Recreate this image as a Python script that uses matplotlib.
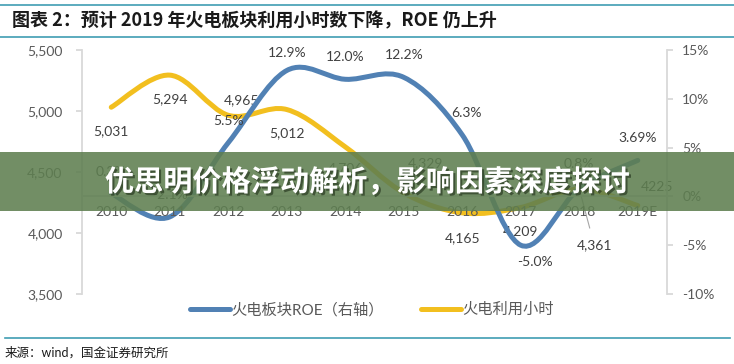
import numpy as np
import matplotlib
matplotlib.use('Agg')
import matplotlib.pyplot as plt
from matplotlib.path import Path
from matplotlib.patches import PathPatch, Rectangle
from matplotlib.lines import Line2D
import matplotlib.patheffects as pe

plt.rcParams['font.family'] = ['Lato', 'Noto Sans CJK SC', 'DejaVu Sans']

years = ['2010', '2011', '2012', '2013', '2014', '2015', '2016', '2017', '2018', '2019E']
hours = [5031, 5294, 4965, 5012, 4706, 4329, 4165, 4209, 4361, 4225]
hours_labels = ['5,031', '5,294', '4,965', '5,012', '4,706', '4,329', '4,165', '4,209', '4,361', '4225']
roe = [0.3, -2.1, 5.5, 12.9, 12.0, 12.2, 6.3, -5.0, 0.8, 3.69]
roe_labels = ['0.3%', '-2.1%', '5.5%', '12.9%', '12.0%', '12.2%', '6.3%', '-5.0%', '0.8%', '3.69%']

# label offsets in pixels (dx, dy), dy positive = up
hours_off = [(0, -24), (0, -24), (13, 15), (0, -24), (0, -21), (22, 30), (0, -25), (0, -24), (15, -56), (19, 19)]
roe_off = [(0, 21), (0, 22), (0, 22), (0, 17), (0, 22), (0, 22), (4, 22), (14, -17), (0, 25), (0, 22)]

BLUE = '#5181B4'
GOLD = '#F2BF1F'
TEAL = '#3F9DB3'
GREY = '#595959'


def smooth_path(xs, ys):
    # Bezier smoothing like the spreadsheet "smoothed line" option
    n = len(xs)
    verts = [(xs[0], ys[0])]
    codes = [Path.MOVETO]
    for i in range(n - 1):
        i0 = max(i - 1, 0)
        i3 = min(i + 2, n - 1)
        c1 = (xs[i] + (xs[i + 1] - xs[i0]) / 6, ys[i] + (ys[i + 1] - ys[i0]) / 6)
        c2 = (xs[i + 1] - (xs[i3] - xs[i]) / 6, ys[i + 1] - (ys[i3] - ys[i]) / 6)
        verts += [c1, c2, (xs[i + 1], ys[i + 1])]
        codes += [Path.CURVE4] * 3
    return Path(verts, codes)


fig = plt.figure(figsize=(7.34, 3.64), dpi=100)
ax = fig.add_axes([82 / 734, 1 - 294 / 364, 585 / 734, 244 / 364])
ax2 = ax.twinx()

x = np.arange(len(years))

ax.add_patch(PathPatch(smooth_path(x, hours), fill=False, edgecolor=GOLD, lw=3.6, capstyle='round'))
ax2.add_patch(PathPatch(smooth_path(x, roe), fill=False, edgecolor=BLUE, lw=3.6, capstyle='round'))

ax.set_xlim(-0.5, len(years) - 0.5)
ax.set_ylim(3500, 5500)
ax.set_yticks([3500, 4000, 4500, 5000, 5500])
ax.set_yticklabels(['3,500', '4,000', '4,500', '5,000', '5,500'])
ax2.set_ylim(-10, 15)
ax2.set_yticks([-10, -5, 0, 5, 10, 15])
ax2.set_yticklabels(['-10%', '-5%', '0%', '5%', '10%', '15%'])

for a in (ax, ax2):
    for s in ('top', 'bottom'):
        a.spines[s].set_visible(False)
    a.spines['left'].set_color('#D9D9D9')
    a.spines['right'].set_color('#D9D9D9')
    a.spines['left'].set_linewidth(1.3)
    a.spines['right'].set_linewidth(1.3)
    a.tick_params(axis='y', colors='#D9D9D9', labelcolor=GREY, labelsize=10, length=4, width=1.3)
ax.tick_params(axis='y', pad=10)
ax2.tick_params(axis='y', pad=7)
ax.spines['right'].set_visible(False)
ax2.spines['left'].set_visible(False)

# category axis crosses the secondary axis at 0
ax2.xaxis.set_visible(True)
ax2.spines['bottom'].set_visible(True)
ax2.spines['bottom'].set_position(('data', 0))
ax2.spines['bottom'].set_color('#D9D9D9')
ax2.spines['bottom'].set_linewidth(1.3)
ax2.set_xticks(x)
ax2.set_xticklabels(years)
ax2.tick_params(axis='x', length=0, pad=7, labelsize=10, labelcolor=GREY)
ax.tick_params(axis='x', bottom=False, labelbottom=False, length=0)

for i in range(len(years)):
    dx, dy = hours_off[i]
    if i == 8:
        ax.annotate(hours_labels[i], (x[i], hours[i]), xytext=(dx, dy), textcoords='offset pixels',
                    ha='center', va='center', fontsize=10, color='#404040',
                    arrowprops=dict(arrowstyle='-', color='#A6A6A6', lw=0.8, shrinkA=6, shrinkB=3))
    else:
        ax.annotate(hours_labels[i], (x[i], hours[i]), xytext=(dx, dy), textcoords='offset pixels',
                    ha='center', va='center', fontsize=10, color='#404040')
    dx, dy = roe_off[i]
    ax2.annotate(roe_labels[i], (x[i], roe[i]), xytext=(dx, dy), textcoords='offset pixels',
                 ha='center', va='center', fontsize=10, color='#404040')

handles = [Line2D([], [], color=BLUE, lw=3.6, solid_capstyle='round'),
           Line2D([], [], color=GOLD, lw=3.6, solid_capstyle='round')]
fig.legend(handles, ['火电板块ROE（右轴）', '火电利用小时'], loc='center', bbox_to_anchor=(372 / 734, 1 - 310 / 364),
           ncol=2, frameon=False, fontsize=11, handlelength=2.6, handletextpad=0.1, columnspacing=2.4,
           labelcolor=GREY)

# title, rules and source
fig.add_artist(Line2D([0, 1], [1 - 5 / 364, 1 - 5 / 364], color=TEAL, lw=1.2))
fig.add_artist(Line2D([0, 1], [1 - 37 / 364, 1 - 37 / 364], color=TEAL, lw=1.2))
fig.add_artist(Line2D([5 / 734, 730 / 734], [1 - 338 / 364, 1 - 338 / 364], color=TEAL, lw=1.2))
fig.text(12 / 734, 1 - 21 / 364, '图表 2：预计 2019 年火电板块利用小时数下降，ROE 仍上升',
         fontsize=13, fontweight='bold', color='#1A1A1A', va='center', family=['Noto Sans CJK SC'])
fig.text(5 / 734, 1 - 352 / 364, '来源：wind，国金证券研究所', fontsize=9, color='#1A1A1A', va='center')

# overlay banner
fig.add_artist(Rectangle((0, 1 - 211 / 364), 1, 59 / 364, transform=fig.transFigure,
                         facecolor='#5E7E50', alpha=0.88, edgecolor='none', zorder=10))
fig.text(0.5, 1 - 182 / 364, '优思明价格浮动解析，影响因素深度探讨', ha='center', va='center',
         fontsize=21, fontweight='bold', color='white', zorder=11, family=['Noto Sans CJK SC'],
         path_effects=[pe.withSimplePatchShadow(offset=(1.5, -1.5), shadow_rgbFace='#2A3A22', alpha=0.7)])

fig.savefig('out.png', dpi=100)
